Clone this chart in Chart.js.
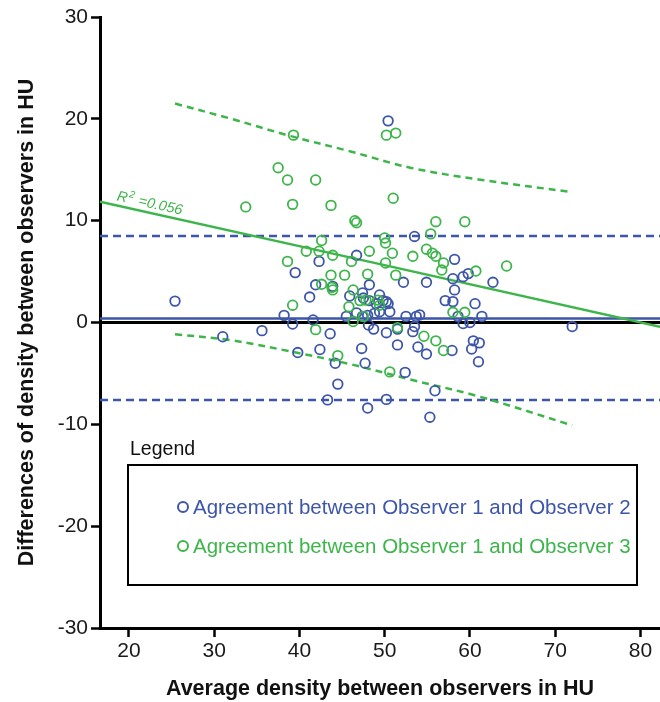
<!DOCTYPE html>
<html>
<head>
<meta charset="utf-8">
<script src="https://cdn.jsdelivr.net/npm/chart.js@4.4.1/dist/chart.umd.min.js"></script>
<style>
	html, body { margin: 0; padding: 0; overflow: hidden; background: #fff; font-family: 'Liberation Sans', Arial, sans-serif; }
	#wrap { position: relative; width: 660px; height: 702px; overflow: hidden; }
	canvas { display: block; }
	#legend_title { position: absolute; left: 130px; top: 437px; font-size: 19.5px; color: #111; }
	#legend_box { position: absolute; left: 127px; top: 464px; width: 507px; height: 118px; border: 2px solid #000; }
	#legend_box ul { list-style: none; margin: 0; padding: 0; }
	#legend_box li { position: absolute; left: 0; height: 24px; line-height: 24px; font-size: 20.5px; white-space: nowrap; }
	#legend_box .marker { position: absolute; left: 48px; top: 6px; width: 12px; height: 12px; box-sizing: border-box; border: 2px solid; border-radius: 50%; }
	#legend_box .text { position: absolute; left: 64px; top: 0; }
</style>
</head>
<body>
<div id="wrap">
	<canvas id="bland_chart" width="660" height="702"></canvas>
	<div id="legend_title">Legend</div>
	<div id="legend_box"><ul></ul></div>
</div>
<script>
// axis ranges and tick labels
const xTicks = [20, 30, 40, 50, 60, 70, 80]
const yTicks = [-30, -20, -10, 0, 10, 20, 30]
const xRange = [16.6, 82.3]
const yRange = [-30, 30]

// observer 1 vs observer 2 (blue)
const obs12X = [25.4, 31.0, 35.6, 38.2, 39.2, 39.5, 39.8, 41.2, 41.6, 41.9, 42.3, 42.4, 43.3, 43.6, 43.9, 44.2, 44.5, 45.5, 45.9, 46.7,
	46.7, 47.3, 47.4, 47.5, 47.4, 47.7, 48.0, 48.0, 48.1, 48.2, 48.2, 48.7, 48.8, 49.0, 49.4, 49.4, 49.8, 50.2, 50.4, 50.2,
	50.2, 50.4, 50.6, 51.5, 51.5, 52.2, 52.4, 52.5, 53.3, 53.5, 53.5, 53.7, 53.9, 54.1, 54.9, 54.9, 55.3, 55.9, 57.1, 57.9,
	58.0, 58.0, 58.2, 58.2, 58.6, 59.2, 59.2, 59.8, 60.0, 60.2, 60.4, 60.6, 61.1, 61.0, 61.4, 62.7, 72.0]
const obs12Y = [2.1, -1.4, -0.8, 0.7, -0.15, 4.9, -2.95, 2.5, 0.25, 3.7, 6.0, -2.65, -7.6, -1.1, 3.55, -4.0, -6.05, 0.6, 2.6, 6.6,
	0.95, -2.55, 2.9, 2.4, 0.6, -4.0, 0.7, -8.4, -0.25, 3.7, 2.15, -0.65, 0.9, 1.85, 2.7, 1.05, 2.15, 2.05, 19.8, -1.0,
	-7.55, 1.85, 1.05, -0.65, -2.2, 3.95, -4.9, 0.6, -0.9, -0.4, 8.45, 0.6, -2.4, 0.75, -3.1, 3.95, -9.3, -6.7, 2.15, -2.75,
	2.05, 4.3, 6.2, 3.2, 0.6, 4.5, -0.1, 4.8, 0.0, -2.6, -1.8, 1.85, -2.0, -3.85, 0.6, 3.95, -0.4]

// observer 1 vs observer 3 (green)
const obs13X = [33.7, 37.5, 38.6, 39.2, 39.3, 38.6, 39.2, 41.9, 43.7, 51.0, 50.2, 51.3, 46.5, 46.7, 56.0, 59.4, 50.0, 50.1, 55.4, 42.6,
	40.8, 42.3, 43.9, 48.2, 50.9, 46.1, 54.9, 55.6, 56.0, 53.3, 56.9, 56.7, 50.1, 64.3, 60.7, 43.7, 45.3, 48.0, 51.3, 42.6,
	43.8, 43.9, 46.3, 47.1, 47.8, 45.8, 49.2, 49.4, 47.5, 46.3, 41.9, 44.5, 51.5, 50.6, 54.6, 56.0, 56.9, 58.0, 59.4]
const obs13Y = [11.35, 15.2, 14.0, 11.6, 18.4, 6.0, 1.7, 14.0, 11.5, 12.2, 18.4, 18.6, 10.0, 9.8, 9.9, 9.9, 8.3, 7.8, 8.7, 8.05,
	7.0, 7.0, 6.6, 7.0, 6.8, 6.0, 7.2, 6.8, 6.5, 6.5, 5.85, 5.15, 5.85, 5.55, 5.05, 4.65, 4.65, 4.75, 4.65, 3.75,
	3.45, 3.2, 3.2, 2.15, 2.2, 1.55, 2.2, 1.7, 0.6, 0.1, -0.7, -3.25, -0.5, -4.85, -1.35, -1.8, -2.75, 1.0, 1.0]

// bias and limits of agreement (observer 1 vs 2)
const meanDiff = 0.4
const loaUpper = 8.5
const loaLower = -7.6

// regression of observer 1 vs 3 and its prediction band
const fitX = [16.6, 82.3]
const fitY = [11.87, -0.41]
const bandX = [25.4, 32, 39, 46, 53, 61, 72]
const bandUpper = [21.5, 20.0, 18.3, 16.8, 15.2, 14.05, 12.8]
const bandLower = [-1.15, -1.75, -2.85, -4.1, -5.6, -7.25, -10.1]
const r2Value = '0.056'
const r2Anchor = [18.5, 12.0]

const BLUE = '#3d56a9'
const GREEN = '#3db54a'
const FONT = "'Liberation Sans', Arial, sans-serif"

const toPoints = (xs, ys) => xs.map((x, i) => ({ x, y: ys[i] }))

// flat line over the full x range
function hLine(label, value, color, width, dash, order) {
	return {
		type: 'line', label, order,
		data: toPoints(xRange, [value, value]),
		borderColor: color, borderWidth: width, borderDash: dash,
		pointRadius: 0, fill: false,
	}
}

function curve(label, xs, ys, color, width, dash, order) {
	return {
		type: 'line', label, order,
		data: toPoints(xs, ys),
		borderColor: color, borderWidth: width, borderDash: dash,
		pointRadius: 0, fill: false, tension: 0.35,
	}
}

// R² text drawn along the regression line
const r2Plugin = {
	id: 'r2Label',
	afterDatasetsDraw(chart) {
		const { ctx, scales: { x, y } } = chart
		const angle = Math.atan2(
			y.getPixelForValue(fitY[1]) - y.getPixelForValue(fitY[0]),
			x.getPixelForValue(fitX[1]) - x.getPixelForValue(fitX[0]))
		ctx.save()
		ctx.translate(x.getPixelForValue(r2Anchor[0]), y.getPixelForValue(r2Anchor[1]))
		ctx.rotate(angle)
		ctx.fillStyle = GREEN
		ctx.textBaseline = 'alphabetic'
		ctx.font = `italic 14.5px ${FONT}`
		ctx.fillText('R', 0, 0)
		let w = ctx.measureText('R').width
		ctx.font = `italic 10px ${FONT}`
		ctx.fillText('2', w + 1, -6)
		w += ctx.measureText('2').width + 2
		ctx.font = `italic 14.5px ${FONT}`
		ctx.fillText(' =' + r2Value, w, 0)
		ctx.restore()
	},
}

const datasets = [
	{
		label: 'Agreement between Observer 1 and Observer 2', order: 2,
		data: toPoints(obs12X, obs12Y),
		borderColor: BLUE, backgroundColor: 'rgba(0,0,0,0)', borderWidth: 1.8, pointRadius: 4.8,
	},
	{
		label: 'Agreement between Observer 1 and Observer 3', order: 1,
		data: toPoints(obs13X, obs13Y),
		borderColor: GREEN, backgroundColor: 'rgba(0,0,0,0)', borderWidth: 1.8, pointRadius: 4.8,
	},
	hLine('zero', 0, '#000', 3, [], 9),
	hLine('mean', meanDiff, BLUE, 2.5, [], 8),
	hLine('upper LoA', loaUpper, BLUE, 2.5, [8, 5], 7),
	hLine('lower LoA', loaLower, BLUE, 2.5, [8, 5], 7),
	curve('upper band', bandX, bandUpper, GREEN, 2.5, [7, 5], 6),
	curve('lower band', bandX, bandLower, GREEN, 2.5, [7, 5], 6),
	curve('fit', fitX, fitY, GREEN, 2.5, [], 5),
]

const axisCommon = {
	type: 'linear',
	border: { color: '#000', width: 3 },
	grid: { drawOnChartArea: false, drawTicks: true, tickLength: 9, tickWidth: 2.5, tickColor: '#000' },
}

const options = {
	type: 'scatter',
	data: { datasets },
	options: {
		responsive: false,
		animation: false,
		// no automatic room for point radius: plot runs to the right edge
		layout: { autoPadding: false, padding: { top: 17, right: 0, bottom: 0, left: 0 } },
		plugins: { legend: { display: false }, tooltip: { enabled: false } },
		scales: {
			x: {
				...axisCommon,
				position: 'bottom',
				min: xRange[0], max: xRange[1],
				afterBuildTicks: scale => { scale.ticks = xTicks.map(value => ({ value })) },
				afterFit: scale => { scale.height = 74; scale.paddingLeft = 0; scale.paddingRight = 0 },
				ticks: { font: { size: 21, family: FONT }, color: '#1a1a1a', padding: 2, maxRotation: 0 },
				title: {
					display: true, text: 'Average density between observers in HU',
					font: { size: 21.5, weight: 'bold', family: FONT }, color: '#111', padding: { top: 0, bottom: 0 },
				},
			},
			y: {
				...axisCommon,
				min: yRange[0], max: yRange[1],
				afterBuildTicks: scale => { scale.ticks = yTicks.map(value => ({ value })) },
				afterFit: scale => { scale.width = 100 },
				ticks: { font: { size: 21, family: FONT }, color: '#1a1a1a', padding: 3 },
				title: {
					display: true, text: 'Differences of density between observers in HU',
					font: { size: 21.5, weight: 'bold', family: FONT }, color: '#111', padding: { top: 14, bottom: 0 },
				},
			},
		},
	},
	plugins: [r2Plugin],
}

const ctx = document.getElementById('bland_chart')
const blandChart = new Chart(ctx, options)

// html legend from the two scatter series
const LEGEND_LIST = document.querySelector('#legend_box ul')
for (let [index, set] of datasets.slice(0, 2).entries()) {
	let item = document.createElement('li')
	item.style.top = (29 + index * 39) + 'px'
	let marker = document.createElement('span')
	marker.className = 'marker'
	marker.style.borderColor = set.borderColor
	let text = document.createElement('span')
	text.className = 'text'
	text.style.color = set.borderColor
	text.innerText = set.label
	item.appendChild(marker)
	item.appendChild(text)
	LEGEND_LIST.appendChild(item)
}
</script>
</body>
</html>
